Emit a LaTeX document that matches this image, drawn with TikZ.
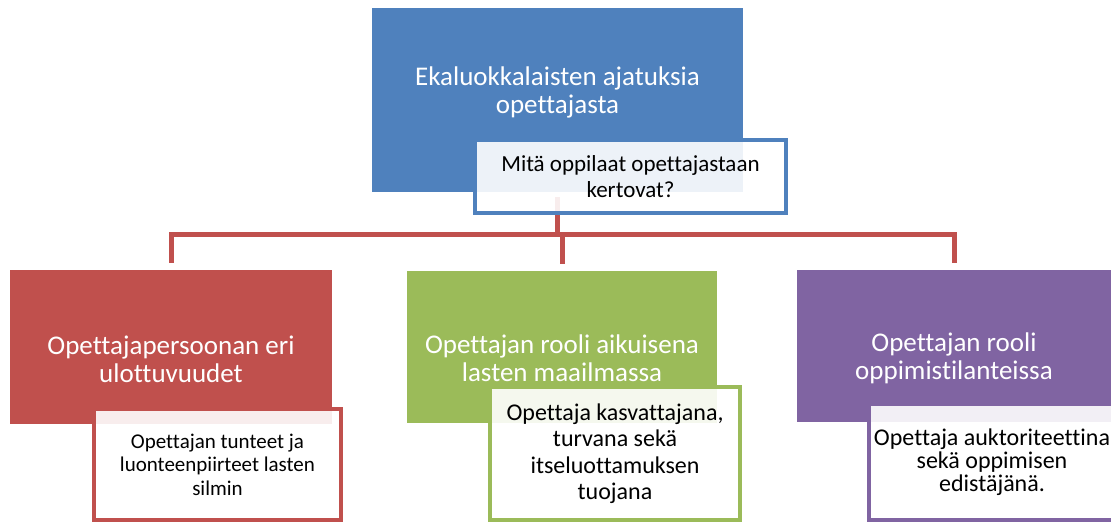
\documentclass[tikz,border=0pt]{standalone}
\usepackage{fontspec}
\setmainfont{Carlito}[Ligatures=NoCommon]
\definecolor{sablue}{HTML}{4F81BD}
\definecolor{sared}{HTML}{C0504D}
\definecolor{sagreen}{HTML}{9BBB59}
\definecolor{sapurple}{HTML}{8064A2}
\tikzset{
  mainbox/.style={fill=#1, inner sep=0pt},
  maintext/.style={text=white, align=center, font=\fontsize{27}{28}\selectfont},
  subbox/.style={draw=#1, line width=4pt, fill=white, fill opacity=0.9, text opacity=1,
    align=center, inner sep=0pt},
  conn/.style={draw=sared, line width=5pt}
}
\begin{document}
\begin{tikzpicture}[x=1pt,y=-1pt]
      \useasboundingbox (0,0) rectangle (1111,523);
      % main boxes
      \node [mainbox=sablue, minimum width=371pt, minimum height=184pt] (top) at (557.5,100) {};
      \node [mainbox=sared, minimum width=322pt, minimum height=154pt] (red) at (171,347) {};
      \node [mainbox=sagreen, minimum width=310pt, minimum height=152pt] (green) at (562,347) {};
      \node [mainbox=sapurple, minimum width=314pt, minimum height=152pt] (purple) at (954,346) {};
      \node [maintext] (toptxt) at (557.5,92) {Ekaluokkalaisten ajatuksia\\opettajasta};
      \node [maintext] (redtxt) at (171,359) {Opettajapersoonan eri\\ulottuvuudet};
      \node [maintext] (greentxt) at (562,358) {Opettajan rooli aikuisena\\lasten maailmassa};
      \node [maintext] (purpletxt) at (954,358) {Opettajan rooli\\oppimistilanteissa};
      % connectors
      \coordinate (bar) at (0,234);
      \draw [conn, shorten <=5pt, shorten >=7pt] (top.south) -- (top.south |- bar) -| (red.north);
      \draw [conn, shorten <=5pt, shorten >=7pt] (top.south) -- (top.south |- bar) -| (green.north);
      \draw [conn, shorten <=5pt, shorten >=7pt] (top.south) -- (top.south |- bar) -| (purple.north);
      % sub boxes
      \node [subbox=sablue, minimum width=311pt, minimum height=73pt,
        font=\fontsize{23}{26.5}\selectfont] (topsub) at (630.5,176.5)
        {Mitä oppilaat opettajastaan\\kertovat?};
      \node [subbox=sared, minimum width=247pt, minimum height=111pt,
        font=\fontsize{21}{23.5}\selectfont] (redsub) at (217.5,464.5)
        {Opettajan tunteet ja\\luonteenpiirteet lasten\\silmin};
      \node [subbox=sagreen, minimum width=250pt, minimum height=133pt,
        font=\fontsize{24}{26.5}\selectfont] (greensub) at (615,453.5)
        {Opettaja kasvattajana,\\turvana sekä\\itseluottamuksen\\tuojana};
      \node [subbox=sapurple, minimum width=246pt, minimum height=116pt,
        font=\fontsize{24}{23}\selectfont] (purplesub) at (992,462)
        {Opettaja auktoriteettina\\sekä oppimisen\\edistäjänä.};
    \end{tikzpicture}
\end{document}
